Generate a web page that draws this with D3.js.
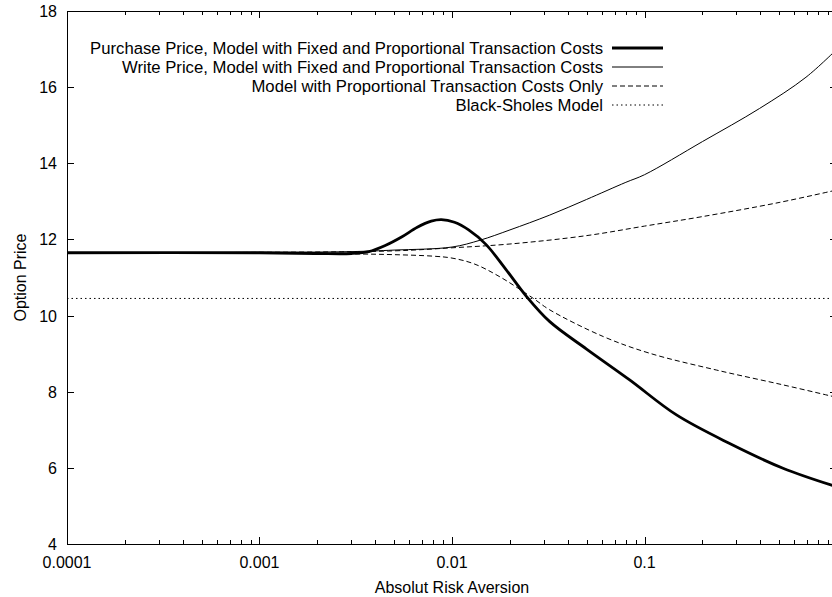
<!DOCTYPE html>
<html><head><meta charset="utf-8">
<script src="https://cdn.jsdelivr.net/npm/d3@7"></script>
<style>
html,body{margin:0;padding:0;background:#fff;}
svg text{font-family:"Liberation Sans",Arial,Helvetica,sans-serif;font-size:16px;fill:#000;}
</style></head>
<body><svg id="chart" width="832" height="597"></svg>
<script>
// ---- data ----
const xTicks = [0.0001, 0.001, 0.01, 0.1];
const xTickLabels = ["0.0001", "0.001", "0.01", "0.1"];
const yTicks = [4, 6, 8, 10, 12, 14, 16, 18];
const seriesNames = [
  "Purchase Price, Model with Fixed and Proportional Transaction Costs",
  "Write Price, Model with Fixed and Proportional Transaction Costs",
  "Model with Proportional Transaction Costs Only",
  "Black-Sholes Model"
];
// risk aversion values (x) and option prices (y)
const purchaseX = [0.0001, 0.001, 0.002, 0.003, 0.0037, 0.0045, 0.0055, 0.0066, 0.0078, 0.0088, 0.0103, 0.0122, 0.015, 0.019, 0.0244, 0.0322, 0.05, 0.0837, 0.1466, 0.277, 0.524, 1.0];
const purchaseY = [11.65, 11.65, 11.63, 11.63, 11.68, 11.84, 12.07, 12.32, 12.48, 12.52, 12.45, 12.25, 11.87, 11.22, 10.5, 9.84, 9.12, 8.31, 7.39, 6.64, 5.99, 5.5];
const writeX = [0.0001, 0.001, 0.003, 0.005, 0.01, 0.014, 0.02, 0.0322, 0.05, 0.08, 0.1, 0.2, 0.396, 0.69, 1.0];
const writeY = [11.65, 11.66, 11.68, 11.72, 11.8, 11.98, 12.25, 12.64, 13.05, 13.5, 13.7, 14.57, 15.44, 16.26, 17.0];
const propUpX = [0.0001, 0.001, 0.005, 0.01, 0.02, 0.05, 0.1, 0.2, 0.5, 1.0];
const propUpY = [11.65, 11.66, 11.7, 11.78, 11.88, 12.1, 12.35, 12.6, 12.97, 13.3];
const propLowX = [0.0001, 0.001, 0.003, 0.005, 0.008, 0.01, 0.013, 0.0177, 0.0263, 0.0322, 0.061, 0.1064, 0.236, 0.524, 1.0];
const propLowY = [11.65, 11.64, 11.62, 11.6, 11.56, 11.51, 11.36, 11.02, 10.46, 10.15, 9.45, 9.01, 8.57, 8.18, 7.85];
const blackScholesX = [0.0001, 1.0];
const blackScholesY = [10.45, 10.45];

// ---- layout ----
const svg = d3.select("#chart");
const L = 67, R = 837, T = 11, B = 544;
const x = d3.scaleLog().domain([0.0001, 1]).range([L, R]);
const y = d3.scaleLinear().domain([4, 18]).range([B, T]);

const zip = (xs, ys) => xs.map((v, i) => ({x: v, y: ys[i]}));
const line = d3.line().x(d => x(d.x)).y(d => y(d.y)).curve(d3.curveCatmullRom.alpha(0.5));

svg.append("clipPath").attr("id", "clip").append("rect")
  .attr("x", L).attr("y", T).attr("width", R - L).attr("height", B - T);

// minor ticks
const minor = [];
for (let e = -4; e < 0; e++) for (let k = 2; k <= 9; k++) minor.push(k * Math.pow(10, e));

const axisG = svg.append("g").attr("stroke", "#000").attr("stroke-width", 1);
xTicks.concat([1]).forEach(v => {
  const px = Math.round(x(v)) + 0.5;
  axisG.append("line").attr("x1", px).attr("x2", px).attr("y1", B).attr("y2", B - 7);
  axisG.append("line").attr("x1", px).attr("x2", px).attr("y1", T).attr("y2", T + 7);
});
minor.forEach(v => {
  const px = Math.round(x(v)) + 0.5;
  axisG.append("line").attr("x1", px).attr("x2", px).attr("y1", B).attr("y2", B - 4);
  axisG.append("line").attr("x1", px).attr("x2", px).attr("y1", T).attr("y2", T + 4);
});
yTicks.forEach(v => {
  const py = Math.round(y(v)) + 0.5;
  axisG.append("line").attr("x1", L).attr("x2", L + 7).attr("y1", py).attr("y2", py);
  axisG.append("line").attr("x1", R).attr("x2", R - 7).attr("y1", py).attr("y2", py);
});
svg.append("rect").attr("x", L + 0.5).attr("y", T + 0.5).attr("width", R - L).attr("height", B - T)
  .attr("fill", "none").attr("stroke", "#000").attr("stroke-width", 1);

// tick labels
xTicks.forEach((v, i) => {
  svg.append("text").attr("x", x(v)).attr("y", 568).attr("text-anchor", "middle").text(xTickLabels[i]);
});
yTicks.forEach(v => {
  svg.append("text").attr("x", 57).attr("y", y(v) + 6).attr("text-anchor", "end").text(v);
});
// axis titles
svg.append("text").attr("x", 452).attr("y", 593).attr("text-anchor", "middle").text("Absolut Risk Aversion");
svg.append("text").attr("transform", "translate(26," + ((T + B) / 2) + ") rotate(-90)")
  .attr("text-anchor", "middle").text("Option Price");

// series
const styles = [
  {w: 2.8, dash: null},
  {w: 1, dash: null},
  {w: 1, dash: "5,3"},
  {w: 1, dash: "1.5,3"}
];
const data = [
  [zip(purchaseX, purchaseY)],
  [zip(writeX, writeY)],
  [zip(propUpX, propUpY), zip(propLowX, propLowY)],
  [zip(blackScholesX, blackScholesY)]
];
const plot = svg.append("g").attr("clip-path", "url(#clip)");
data.forEach((group, i) => {
  group.forEach(pts => {
    plot.append("path").attr("d", line(pts)).attr("fill", "none")
      .attr("stroke", "#000").attr("stroke-width", styles[i].w)
      .attr("stroke-dasharray", styles[i].dash);
  });
});

// legend
const legY = [48, 67, 86, 105];
seriesNames.forEach((name, i) => {
  svg.append("text").attr("x", 603).attr("y", legY[i] + 5.5).attr("text-anchor", "end")
    .style("font-size", "16.7px").text(name);
  svg.append("line").attr("x1", 612).attr("x2", 663).attr("y1", legY[i]).attr("y2", legY[i])
    .attr("stroke", "#000").attr("stroke-width", styles[i].w).attr("stroke-dasharray", styles[i].dash);
});
</script></body></html>
